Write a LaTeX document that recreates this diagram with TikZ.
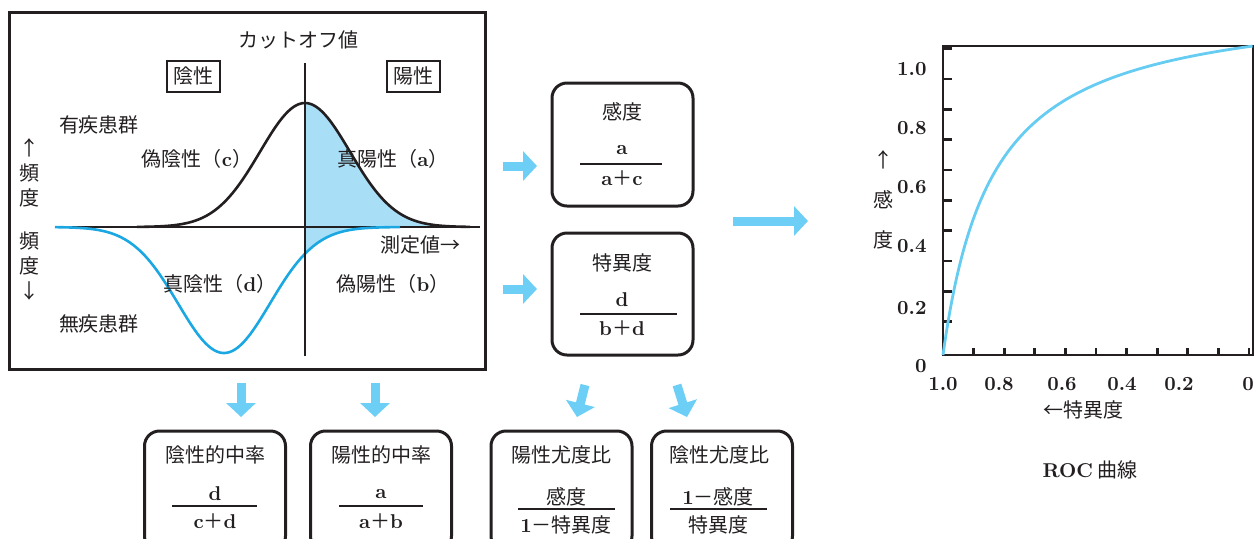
\documentclass[tikz,border=0pt]{standalone}
\usepackage{fontspec}
\newfontfamily\jp{Noto Sans CJK JP}
\usetikzlibrary{arrows.meta}
\definecolor{ink}{HTML}{231F20}
\definecolor{arrowblue}{HTML}{6DCFF6}
\definecolor{curveblue}{HTML}{1BA8E2}
\definecolor{areablue}{HTML}{A9DEF7}
\definecolor{rocblue}{HTML}{66CCF2}
\newcommand{\romb}[1]{{\rmfamily\bfseries #1}}

\begin{document}
\begin{tikzpicture}[x=0.5pt, y=-0.5pt,
  every node/.style={font=\jp\fontsize{10}{12}\selectfont, text=ink, inner sep=1pt},
  frame/.style={draw=ink, line width=1.5pt},
  rbox/.style={draw=ink, line width=1.5pt, rounded corners=7.5pt, minimum width=70.5pt, inner sep=0pt},
  tagbox/.style={draw=ink, line width=1pt, minimum width=26.5pt, minimum height=15.5pt, inner sep=2pt},
  fatarrow/.style={draw=arrowblue, line width=4.5pt, -{Triangle[length=7pt,width=14.5pt]}},
  fracline/.style={draw=ink, line width=1pt}]
\useasboundingbox (0,0) rectangle (1260,538);

% distributions
\draw[frame] (9,12) rectangle (485,369);
\fill[areablue] (305,227) -- plot[domain=305:470, samples=60] (\x, {227-124*exp(-((\x-305)/45)^2/2)}) -- cycle;
\fill[areablue] (305,227) -- plot[smooth] coordinates {(305,253.7) (315,244.8) (325,238.3) (335,233.9) (345,231) (360,228.6) (380,227.4) (400,227)} -- cycle;
\draw[ink, line width=1.3pt] (55,227) -- (480,227);
\draw[ink, line width=1.3pt] plot[domain=137:470, samples=120, smooth] (\x, {227-124*exp(-((\x-305)/45)^2/2)});
\draw[curveblue, line width=1.3pt] plot[domain=55:400, samples=120, smooth] (\x, {227+126*exp(-((\x-224)/46)^2/2)});
\draw[ink, line width=1.3pt] (305,63) -- (305,356);

\node (cutoff) at (298,40) {カットオフ値};
\node[tagbox] (neg) at (193,76) {陰性};
\node[tagbox] (pos) at (413,76) {陽性};
\node (ill) at (99,125) {有疾患群};
\node (healthy) at (99,324) {無疾患群};
\node[align=center, font=\jp\fontsize{10}{12.5}\selectfont] (frequp) at (29,173) {↑\\頻\\度};
\node[align=center, font=\jp\fontsize{10}{12.5}\selectfont] (freqdown) at (29,266) {頻\\度\\↓};
\node (fn) at (197,159) {偽陰性（\romb{c}）};
\node (tp) at (393,159) {真陽性（\romb{a}）};
\node (tn) at (220,284) {真陰性（\romb{d}）};
\node (fp) at (393,284) {偽陽性（\romb{b}）};
\node (value) at (420,245) {測定値→};

% sensitivity and specificity
\node[rbox, minimum height=61.5pt] (sens) at (622.5,144.5) {};
\node (senst) at (622,112) {感度};
\node (sensn) at (622,150) {\romb{a}};
\draw[fracline] (580,164) -- (662,164);
\node (sensd) at (622,178) {\romb{a}＋\romb{c}};
\node[rbox, minimum height=61pt] (spec) at (622.5,294) {};
\node (spect) at (622,263) {特異度};
\node (specn) at (622,300) {\romb{d}};
\draw[fracline] (580,314) -- (677,314);
\node (specd) at (622,328) {\romb{b}＋\romb{d}};

\coordinate (sensfrom) at (503,166);
\coordinate (sensto) at (537,166);
\coordinate (specfrom) at (503,289);
\coordinate (specto) at (537,289);
\coordinate (rocfrom) at (733,221);
\coordinate (rocto) at (808,221);
\draw[fatarrow] (sensfrom) -- (sensto);
\draw[fatarrow] (specfrom) -- (specto);
\draw[fatarrow] (rocfrom) -- (rocto);

% predictive values and likelihood ratios
\node[rbox, minimum height=60pt] (npv) at (215,491) {};
\node (npvt) at (215,455) {陰性的中率};
\node (npvn) at (215,494) {\romb{d}};
\draw[fracline] (172,506) -- (257,506);
\node (npvd) at (215,521) {\romb{c}＋\romb{d}};
\node[rbox, minimum height=60pt] (ppv) at (381,491) {};
\node (ppvt) at (381,455) {陽性的中率};
\node (ppvn) at (381,494) {\romb{a}};
\draw[fracline] (339,506) -- (423,506);
\node (ppvd) at (381,521) {\romb{a}＋\romb{b}};
\node[rbox, minimum height=60pt] (plr) at (561.5,491) {};
\node (plrt) at (561,455) {陽性尤度比};
\node (plrn) at (566,497) {感度};
\draw[fracline] (518,509) -- (615,509);
\node (plrd) at (566,525) {\romb{1}－特異度};
\node[rbox, minimum height=60pt] (nlr) at (722,491) {};
\node (nlrt) at (719,455) {陰性尤度比};
\node (nlrn) at (718,497) {\romb{1}－感度};
\draw[fracline] (670,509) -- (767,509);
\node (nlrd) at (718,525) {特異度};

\coordinate (npvfrom) at (241,383);
\coordinate (npvto) at (241,417);
\coordinate (ppvfrom) at (375,383);
\coordinate (ppvto) at (375,417);
\coordinate (plrfrom) at (585,385);
\coordinate (plrto) at (577,417);
\coordinate (nlrfrom) at (677,385);
\coordinate (nlrto) at (687,417);
\draw[fatarrow] (npvfrom) -- (npvto);
\draw[fatarrow] (ppvfrom) -- (ppvto);
\draw[fatarrow] (plrfrom) -- (plrto);
\draw[fatarrow] (nlrfrom) -- (nlrto);

% ROC curve
\draw[ink, line width=1.4pt] (943,46) rectangle (1253,355);
\foreach \k in {1,...,10} {
  \draw[ink, line width=1.4pt] (943,{352-30.33*\k}) -- (952,{352-30.33*\k});
  \draw[ink, line width=1.4pt] ({943+30.6*\k},355) -- ({943+30.6*\k},348);
}
\draw[rocblue, line width=1.4pt] plot[domain=0:1, samples=80, smooth] ({943+310*\x*\x}, {355-309*1.16*\x*\x/(\x*\x+0.16)});
\foreach \v/\y in {1.0/69, 0.8/128, 0.6/187, 0.4/246, 0.2/308, 0/366}
  \node[anchor=east] at (929,\y) {\romb{\v}};
\foreach \v/\x in {1.0/943, 0.8/999, 0.6/1062, 0.4/1122, 0.2/1179, 0/1248}
  \node at (\x,384) {\romb{\v}};
\node (specaxis) at (1083,410) {←特異度};
\node[align=center, font=\jp\fontsize{10}{20}\selectfont] (sensaxis) at (883,200) {↑\\感\\度};
\node (roc) at (1090,470) {\romb{ROC} 曲線};
\end{tikzpicture}
\end{document}
